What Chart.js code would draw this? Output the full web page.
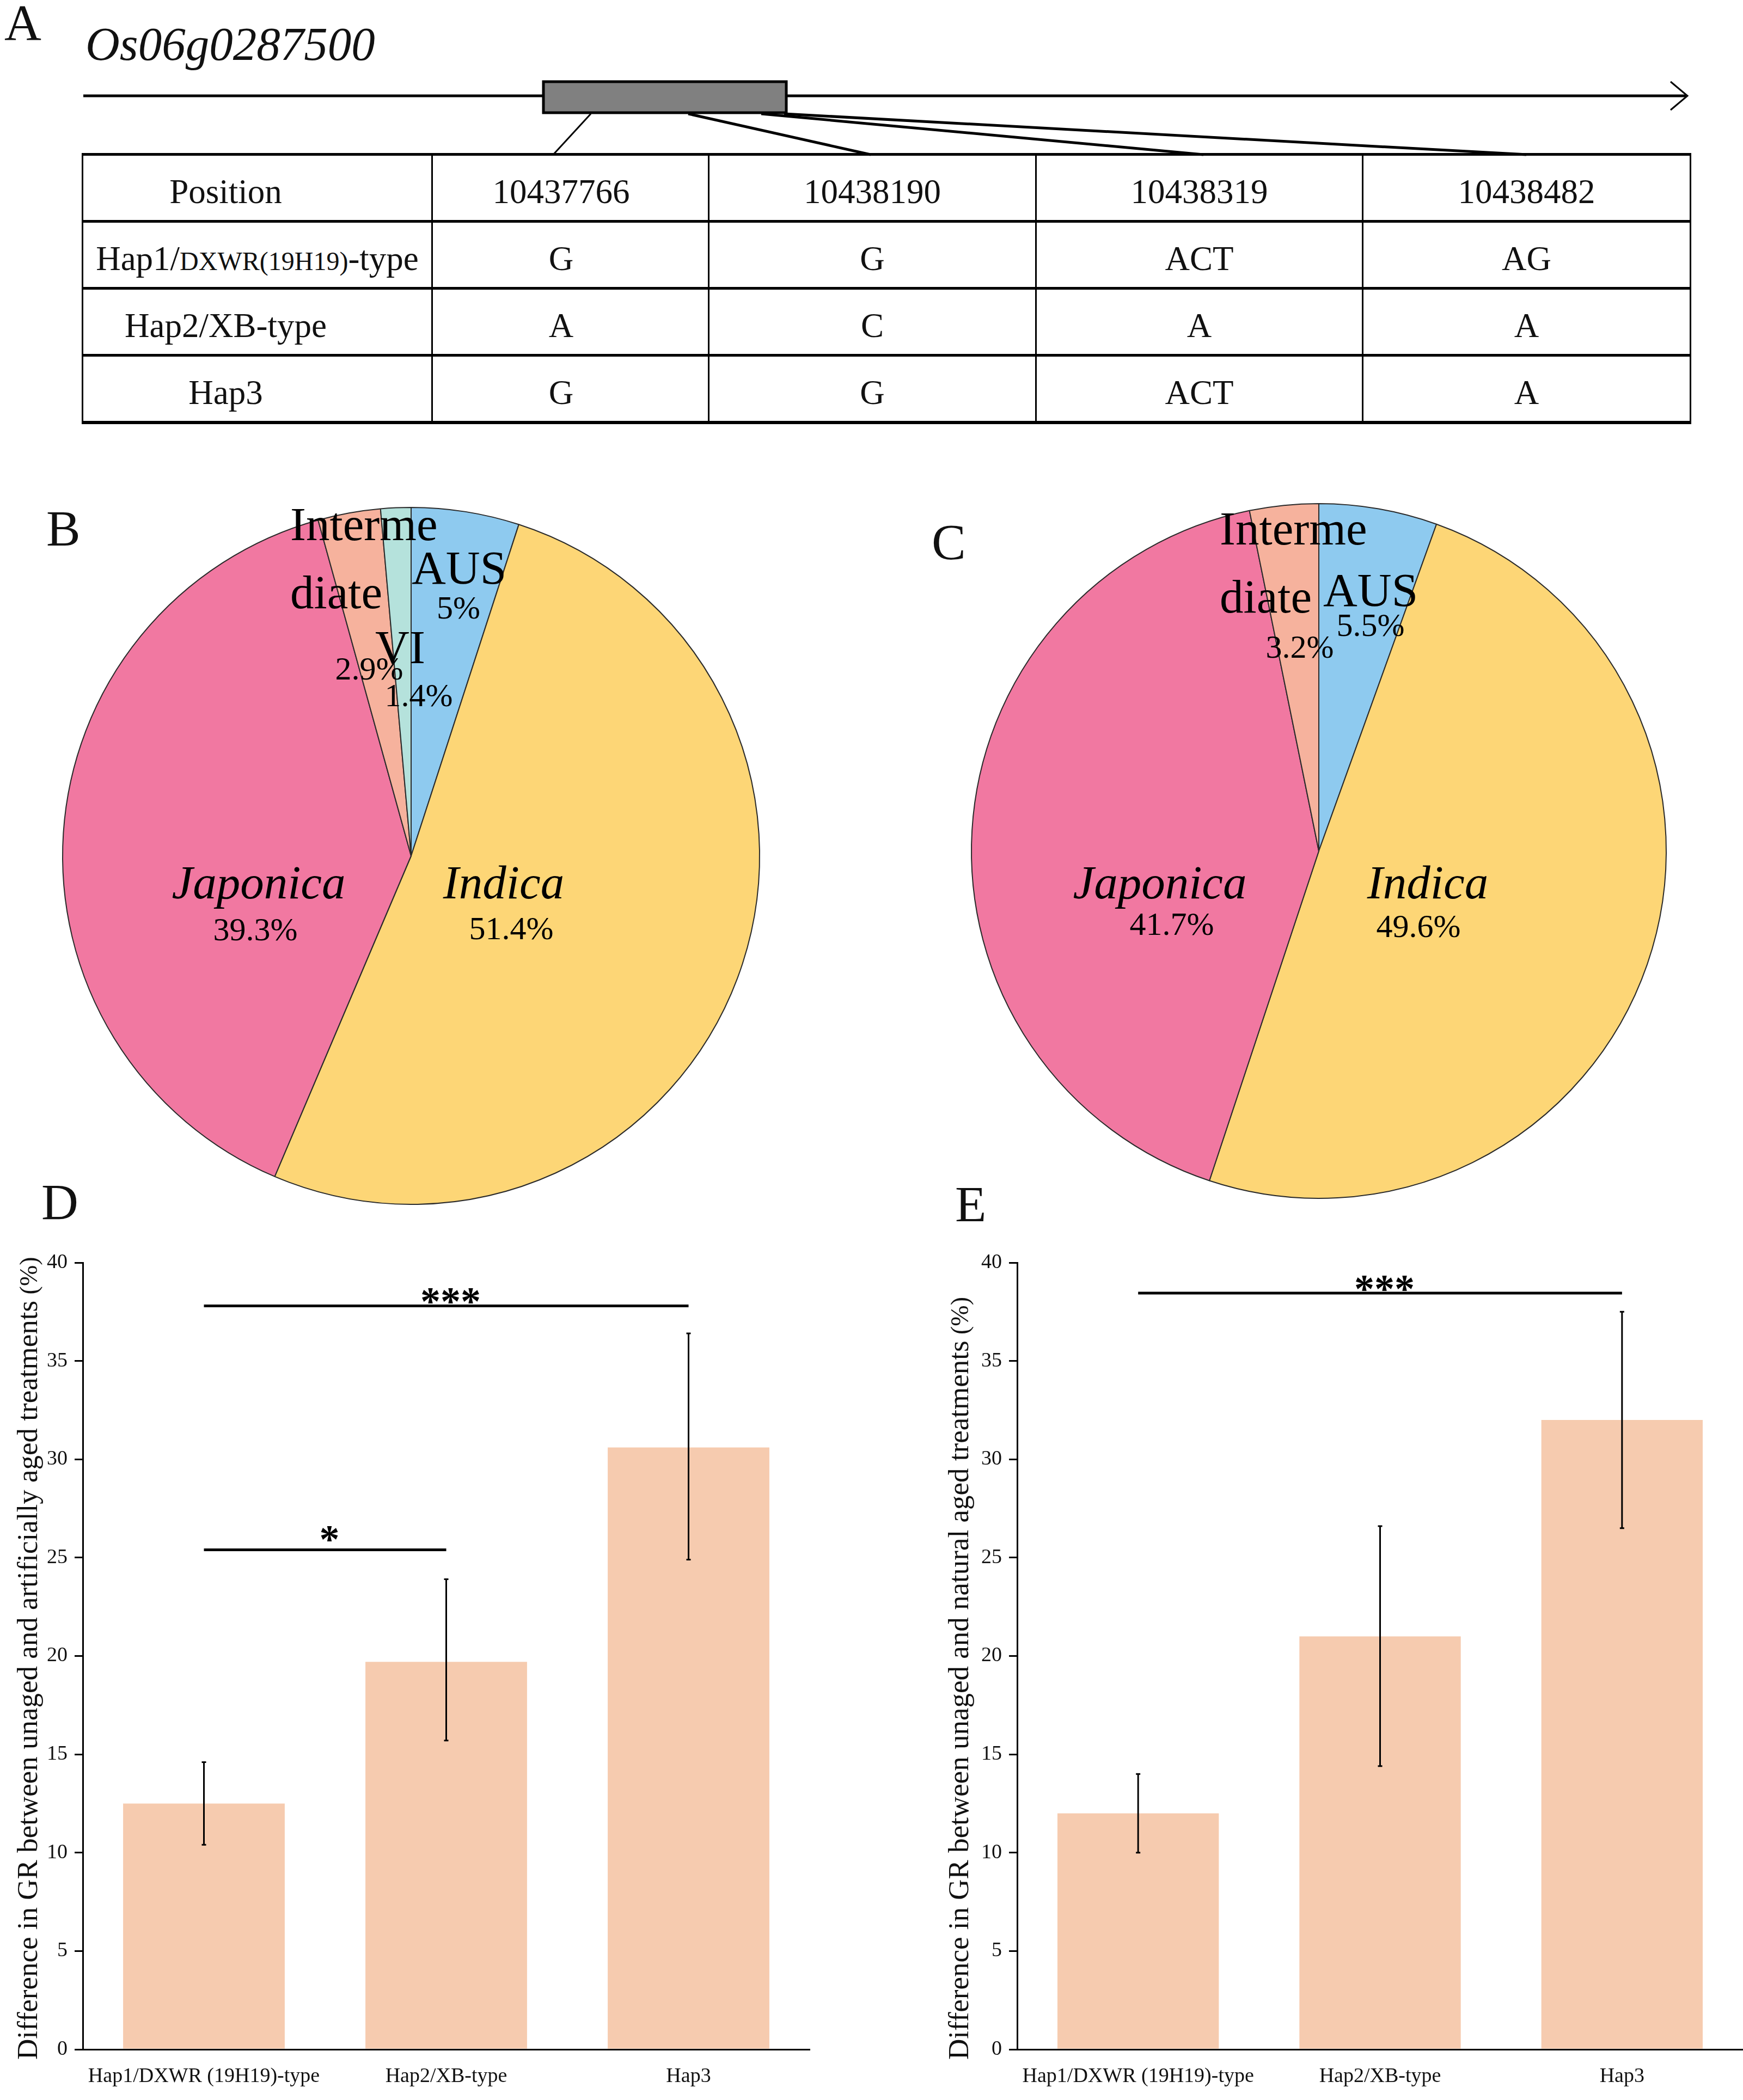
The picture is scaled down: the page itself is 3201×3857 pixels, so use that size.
<!DOCTYPE html>
<html>
<head>
<meta charset="utf-8">
<title>Os06g0287500 haplotypes</title>
<script src="https://cdn.jsdelivr.net/npm/chart.js@4.4.1/dist/chart.umd.min.js"></script>
<style>
  html, body { margin: 0; padding: 0; background: #fff; }
  body {
    width: 3201px; height: 3857px; position: relative; overflow: hidden;
    font-family: 'Liberation Serif', 'Times New Roman', serif; color: #111;
  }
  .abs { position: absolute; }
  .letter { font-size: 94px; line-height: 1; }
  #geneName { left: 157px; top: 37px; font-size: 87px; line-height: 1; font-style: italic; }
  #snpTable { left: 150px; top: 281px; border-collapse: collapse; table-layout: fixed; }
  #snpTable td {
    border-left: 3px solid #000; border-right: 3px solid #000;
    border-top: 5px solid #000; border-bottom: 5px solid #000;
    text-align: center; vertical-align: middle; padding: 14px 0 0 0;
    font-size: 63px; height: 104px; white-space: nowrap;
  }
  #snpTable tr:first-child td { border-top-width: 6px; }
  #snpTable tr:last-child td { border-bottom-width: 6px; }
  .small { font-size: 48px; }
</style>
</head>
<body>

<!-- Panel A: gene model + SNP table -->
<div class="abs letter" style="left:8px; top:-6px;">A</div>
<div class="abs" id="geneName">Os06g0287500</div>
<svg class="abs" style="left:0; top:0;" width="3201" height="300">
  <line x1="153" y1="176" x2="3096" y2="176" stroke="#000" stroke-width="5"/>
  <polyline points="3068,150 3099,176 3068,202" fill="none" stroke="#000" stroke-width="3"/>
  <rect x="998" y="150" width="446" height="57" fill="#808080" stroke="#000" stroke-width="5"/>
  <line x1="1085" y1="209" x2="1016" y2="284" stroke="#000" stroke-width="3"/>
  <line x1="1264" y1="209" x2="1599" y2="284" stroke="#000" stroke-width="5"/>
  <line x1="1398" y1="209" x2="2210" y2="284" stroke="#000" stroke-width="5"/>
  <line x1="1440" y1="209" x2="2803" y2="284" stroke="#000" stroke-width="5"/>
</svg>
<table class="abs" id="snpTable"></table>

<!-- Panels B / C: pies -->
<div class="abs letter" style="left:85px; top:923px;">B</div>
<div class="abs letter" style="left:1711px; top:948px;">C</div>
<canvas class="abs" id="pieB" width="1300" height="1300" style="left:105px; top:922px;"></canvas>
<canvas class="abs" id="pieC" width="1300" height="1300" style="left:1772px; top:913px;"></canvas>

<!-- Panels D / E: bar charts -->
<div class="abs letter" style="left:76px; top:2160px;">D</div>
<div class="abs letter" style="left:1754px; top:2164px;">E</div>
<canvas class="abs" id="barD" width="1600" height="1607" style="left:0px; top:2250px;"></canvas>
<canvas class="abs" id="barE" width="1501" height="1607" style="left:1700px; top:2250px;"></canvas>

<script>
// --- Table data (panel A) ---
const snpPositions = ['10437766', '10438190', '10438319', '10438482'];
const tableHaps = ['Hap1/DXWR(19H19)-type', 'Hap2/XB-type', 'Hap3'];
const hap1Alleles = ['G', 'G', 'ACT', 'AG'];
const hap2Alleles = ['A', 'C', 'A', 'A'];
const hap3Alleles = ['G', 'G', 'ACT', 'A'];

// --- Pie data (panels B, C) ---
const groupsB = ['AUS', 'Indica', 'Japonica', 'Intermediate', 'VI'];
const shareB = [5, 51.4, 39.3, 2.9, 1.4];
const groupsC = ['AUS', 'Indica', 'Japonica', 'Intermediate'];
const shareC = [5.5, 49.6, 41.7, 3.2];

// --- Bar data (panels D, E) ---
const haplotypes = ['Hap1/DXWR (19H19)-type', 'Hap2/XB-type', 'Hap3'];
const artificialMean = [12.5, 19.7, 30.6];
const artificialLow = [10.4, 15.7, 24.9];
const artificialHigh = [14.6, 23.9, 36.4];
const naturalMean = [12.0, 21.0, 32.0];
const naturalLow = [10.0, 14.4, 26.5];
const naturalHigh = [14.0, 26.6, 37.5];
const yTicks = [0, 5, 10, 15, 20, 25, 30, 35, 40];
const artificialSig = [
    { from: 0, to: 2, level: 37.8, mark: '***' },
    { from: 0, to: 1, level: 25.4, mark: '*' }
];
const naturalSig = [
    { from: 0, to: 2, level: 38.45, mark: '***' }
];

// --- Styles / layout ---
const FONT = "'Liberation Serif', 'Times New Roman', serif";
const groupColors = {
    AUS: '#8ECAEF', Indica: '#FDD676', Japonica: '#F178A1',
    Intermediate: '#F6B29D', VI: '#B5E2DC'
};
const italicGroups = ['Indica', 'Japonica'];
const nameLines = { Intermediate: ['Interme', 'diate'] };
// label spots: pixel offsets from the pie centre (baseline positions)
const spotsB = {
    AUS:          { name: [88, -500],   value: [87, -436] },
    Indica:       { name: [170, 78],    value: [184, 153] },
    Japonica:     { name: [-280, 78],   value: [-286, 155] },
    Intermediate: { name: [-222, -580], value: [-77, -324], left: true },
    VI:           { name: [-20, -354],  value: [14, -275] }
};
const spotsC = {
    AUS:          { name: [95, -450],   value: [95, -395] },
    Indica:       { name: [200, 87],    value: [183, 158] },
    Japonica:     { name: [-292, 87],   value: [-270, 154] },
    Intermediate: { name: [-182, -563], value: [-35, -355], left: true }
};
// horizontal nudge of table text per column (right padding, px)
const colNudge = [116, 34, 0, 0, 0];

// --- Build table ---
function buildTable() {
    const table = document.getElementById('snpTable');
    const colWidths = [642, 508, 601, 600, 602];
    const cg = document.createElement('colgroup');
    colWidths.forEach(w => {
        const c = document.createElement('col');
        c.style.width = w + 'px';
        cg.appendChild(c);
    });
    table.appendChild(cg);

    const rows = [['Position'].concat(snpPositions)];
    [hap1Alleles, hap2Alleles, hap3Alleles].forEach((alleles, i) => {
        rows.push([tableHaps[i]].concat(alleles));
    });
    rows.forEach((r, ri) => {
        const tr = document.createElement('tr');
        r.forEach((txt, ci) => {
            const td = document.createElement('td');
            td.innerHTML = txt.replace('DXWR(19H19)', '<span class="small">DXWR(19H19)</span>');
            // the long Hap1 label fills its cell, so it is not nudged
            if (!(ri === 1 && ci === 0)) td.style.paddingRight = colNudge[ci] + 'px';
            tr.appendChild(td);
        });
        table.appendChild(tr);
    });
}

// --- Pie label plugin ---
const pieText = {
    id: 'pieText',
    afterDraw(chart, args, opts) {
        const ctx = chart.ctx;
        const arc = chart.getDatasetMeta(0).data[0];
        const cx = arc.x, cy = arc.y;
        const groups = chart.data.labels;
        const values = chart.data.datasets[0].data;
        ctx.save();
        ctx.fillStyle = '#000';
        ctx.textBaseline = 'alphabetic';
        groups.forEach((g, i) => {
            const spot = opts.spots[g];
            const style = italicGroups.includes(g) ? 'italic ' : '';
            ctx.font = style + '87px ' + FONT;
            ctx.textAlign = spot.left ? 'left' : 'center';
            const lines = nameLines[g] || [g];
            lines.forEach((ln, k) => {
                ctx.fillText(ln, cx + spot.name[0], cy + spot.name[1] + k * 125);
            });
            ctx.font = '60px ' + FONT;
            ctx.textAlign = 'center';
            ctx.fillText(values[i] + '%', cx + spot.value[0], cy + spot.value[1]);
        });
        ctx.restore();
    }
};

function makePie(id, groups, shares, spots, pad) {
    return new Chart(document.getElementById(id), {
        type: 'pie',
        data: {
            labels: groups,
            datasets: [{
                data: shares,
                backgroundColor: groups.map(g => groupColors[g]),
                borderColor: '#2a2a2a',
                borderWidth: 2
            }]
        },
        options: {
            responsive: false,
            animation: false,
            devicePixelRatio: 1,
            events: [],
            layout: { padding: pad },
            plugins: {
                legend: { display: false },
                tooltip: { enabled: false },
                pieText: { spots: spots }
            }
        },
        plugins: [pieText]
    });
}

// --- Error bars, significance brackets, y title ---
const barExtras = {
    id: 'barExtras',
    afterDatasetsDraw(chart, args, opts) {
        const { ctx, scales: { x, y } } = chart;
        ctx.save();
        ctx.strokeStyle = '#000';
        ctx.fillStyle = '#000';

        // error bars
        ctx.lineWidth = 3;
        opts.low.forEach((lo, i) => {
            const px = x.getPixelForValue(i);
            const yTop = y.getPixelForValue(opts.high[i]);
            const yBot = y.getPixelForValue(lo);
            ctx.beginPath();
            ctx.moveTo(px, yTop); ctx.lineTo(px, yBot);
            ctx.moveTo(px - 4, yTop); ctx.lineTo(px + 4, yTop);
            ctx.moveTo(px - 4, yBot); ctx.lineTo(px + 4, yBot);
            ctx.stroke();
        });

        // significance lines
        opts.sig.forEach(s => {
            const x1 = x.getPixelForValue(s.from);
            const x2 = x.getPixelForValue(s.to);
            const ly = y.getPixelForValue(s.level);
            ctx.lineWidth = 5;
            ctx.beginPath();
            ctx.moveTo(x1, ly); ctx.lineTo(x2, ly);
            ctx.stroke();
            ctx.font = 'bold 74px ' + FONT;
            ctx.textAlign = 'center';
            ctx.textBaseline = 'alphabetic';
            const shift = s.mark.length > 1 ? 17 : 6;
            ctx.fillText(s.mark, (x1 + x2) / 2 + 8, ly + shift);
        });

        // rotated y title, anchored near the bottom of the axis
        ctx.save();
        ctx.translate(opts.titleX, opts.titleBottom);
        ctx.rotate(-Math.PI / 2);
        ctx.textAlign = 'left';
        ctx.textBaseline = 'alphabetic';
        ctx.fillStyle = '#111';
        ctx.font = '53px ' + FONT;
        ctx.fillText(opts.title, 0, 0);
        const w = ctx.measureText(opts.title).width;
        ctx.font = '46px ' + FONT;
        ctx.fillText(' (%)', w, 0);
        ctx.restore();

        ctx.restore();
    }
};

function makeBar(id, means, lows, highs, sig, yWidth, rightPad, title, titleX) {
    return new Chart(document.getElementById(id), {
        type: 'bar',
        data: {
            labels: haplotypes,
            datasets: [{
                data: means,
                backgroundColor: '#F6CBAF',
                borderWidth: 0,
                barPercentage: 0.667,
                categoryPercentage: 1
            }]
        },
        options: {
            responsive: false,
            animation: false,
            devicePixelRatio: 1,
            events: [],
            layout: { padding: { left: 0, top: 69, right: rightPad, bottom: 0 } },
            plugins: {
                legend: { display: false },
                tooltip: { enabled: false },
                barExtras: {
                    low: lows, high: highs, sig: sig,
                    title: title, titleX: titleX, titleBottom: 1533
                }
            },
            scales: {
                x: {
                    grid: { display: false, drawTicks: false },
                    border: { display: true, color: '#000', width: 3 },
                    ticks: {
                        color: '#111', padding: 27, maxRotation: 0, autoSkip: false,
                        font: { family: FONT, size: 38 }
                    },
                    afterFit: s => { s.height = 93; }
                },
                y: {
                    min: 0, max: 40,
                    afterBuildTicks: s => { s.ticks = yTicks.map(v => ({ value: v })); },
                    grid: {
                        drawOnChartArea: false, drawTicks: true, tickLength: 15,
                        color: '#000', lineWidth: 3
                    },
                    border: { display: true, color: '#000', width: 3 },
                    ticks: {
                        color: '#111', padding: 13,
                        font: { family: FONT, size: 38 }
                    },
                    afterFit: s => { s.width = yWidth; }
                }
            }
        },
        plugins: [barExtras]
    });
}

document.addEventListener('DOMContentLoaded', () => {
    buildTable();
    makePie('pieB', groupsB, shareB, spotsB, 9);
    makePie('pieC', groupsC, shareC, spotsC, 11);
    makeBar('barD', artificialMean, artificialLow, artificialHigh, artificialSig, 152, 113,
        'Difference in GR between unaged and artificially aged treatments', 68);
    makeBar('barE', naturalMean, naturalLow, naturalHigh, naturalSig, 168, 0,
        'Difference in GR between unaged and natural aged treatments', 78);
});
</script>
</body>
</html>
